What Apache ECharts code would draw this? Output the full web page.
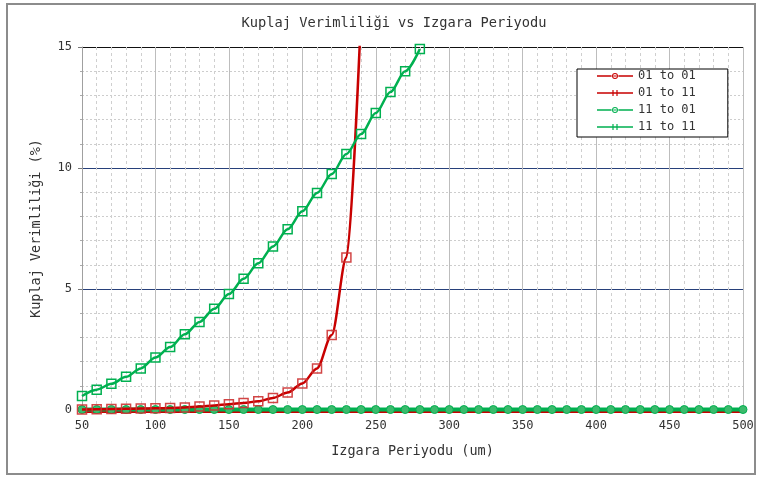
<!DOCTYPE html>
<html>
<head>
<meta charset="utf-8">
<script src="https://cdn.jsdelivr.net/npm/echarts@6/dist/echarts.min.js"></script>
<style>
  html, body { margin: 0; padding: 0; background: #fff; }
  #chart { width: 761px; height: 477px; }
</style>
</head>
<body>
<div id="chart"></div>
<script>
// Grating period (um) sampled every 10 um
const periodsRise01 = [50, 60, 70, 80, 90, 100, 110, 120, 130, 140, 150, 160, 170, 180, 190, 200, 210, 220, 230, 240];
const periodsRise11 = [50, 60, 70, 80, 90, 100, 110, 120, 130, 140, 150, 160, 170, 180, 190, 200, 210, 220, 230, 240, 250, 260, 270, 280];
const periodsAll = [50, 60, 70, 80, 90, 100, 110, 120, 130, 140, 150, 160, 170, 180, 190, 200,
  210, 220, 230, 240, 250, 260, 270, 280, 290, 300, 310, 320, 330, 340, 350, 360, 370, 380, 390, 400,
  410, 420, 430, 440, 450, 460, 470, 480, 490, 500];

// Coupling efficiency (%) per mode pair
const eff01to01 = [0.02, 0.03, 0.04, 0.05, 0.06, 0.07, 0.08, 0.10, 0.14, 0.19, 0.24, 0.29, 0.36, 0.50, 0.72, 1.10, 1.72, 3.10, 6.30, 16.4];
const eff01to11 = [-0.08, -0.08, -0.08, -0.08, -0.08, -0.08, -0.08, -0.08, -0.08, -0.08, -0.08, -0.08, -0.08, -0.08, -0.08, -0.08,
  -0.08, -0.08, -0.08, -0.08, -0.08, -0.08, -0.08, -0.08, -0.08, -0.08, -0.08, -0.08, -0.08, -0.08, -0.08, -0.08,
  -0.08, -0.08, -0.08, -0.08, -0.08, -0.08, -0.08, -0.08, -0.08, -0.08, -0.08, -0.08, -0.08, -0.08];
const eff11to01 = [0.02, 0.02, 0.02, 0.02, 0.02, 0.02, 0.02, 0.02, 0.02, 0.02, 0.02, 0.02, 0.02, 0.02, 0.02, 0.02,
  0.02, 0.02, 0.02, 0.02, 0.02, 0.02, 0.02, 0.02, 0.02, 0.02, 0.02, 0.02, 0.02, 0.02, 0.02, 0.02,
  0.02, 0.02, 0.02, 0.02, 0.02, 0.02, 0.02, 0.02, 0.02, 0.02, 0.02, 0.02, 0.02, 0.02];
const eff11to11 = [0.58, 0.84, 1.08, 1.37, 1.72, 2.17, 2.60, 3.13, 3.64, 4.18, 4.79, 5.42, 6.06, 6.76, 7.47, 8.21,
  8.97, 9.75, 10.58, 11.40, 12.27, 13.14, 14.00, 14.92];

const seriesNames = ['01 to 01', '01 to 11', '11 to 01', '11 to 11'];
const xTickLabels = ['50', '100', '150', '200', '250', '300', '350', '400', '450', '500'];
const yTickLabels = ['0', '5', '10', '15'];

const RED = '#c80000';
const GREEN = '#00b050';
const MONO = '"DejaVu Sans Mono", "Liberation Mono", monospace';

const pairs = (xs, ys) => xs.map((x, i) => [x, ys[i]]);

// Legend glyphs: a short line with a hollow circle, or a line with two crossbars
const ICON_CIRCLE = 'path://M0,5.2H14.6V6.8H0Z M21.4,5.2H36V6.8H21.4Z M16.4,5.4H19.6V6.6H16.4Z ' +
  'M21,6A3,3,0,1,0,15,6A3,3,0,1,0,21,6Z M20,6A2,2,0,1,1,16,6A2,2,0,1,1,20,6Z';
const ICON_PLUS = 'path://M0,5.2H36V6.8H0Z M15.4,3H16.6V9H15.4Z M19.4,3H20.6V9H19.4Z';

const chart = echarts.init(document.getElementById('chart'));
chart.setOption({
  animation: false,
  backgroundColor: '#fff',
  graphic: [{
    type: 'rect',
    shape: { x: 7, y: 4, width: 748, height: 470 },
    style: { fill: 'none', stroke: '#8c8c8c', lineWidth: 2 },
    silent: true
  }],
  title: {
    text: 'Kuplaj Verimliliği vs Izgara Periyodu',
    left: 389,
    top: 11,
    textAlign: 'center',
    textStyle: { fontFamily: MONO, fontSize: 13.7, fontWeight: 'normal', color: '#333' }
  },
  grid: { left: 82, right: 18, top: 47, bottom: 67 },
  legend: {
    orient: 'vertical',
    left: 577,
    top: 69,
    padding: [1, 32, 4, 20],
    itemWidth: 36,
    itemHeight: 12,
    itemGap: 5,
    borderColor: '#000',
    borderWidth: 1,
    backgroundColor: '#fff',
    itemStyle: { borderWidth: 0 },
    textStyle: { fontFamily: MONO, fontSize: 12, color: '#333' },
    data: [
      { name: seriesNames[0], icon: ICON_CIRCLE, itemStyle: { color: RED } },
      { name: seriesNames[1], icon: ICON_PLUS, itemStyle: { color: RED } },
      { name: seriesNames[2], icon: ICON_CIRCLE, itemStyle: { color: GREEN } },
      { name: seriesNames[3], icon: ICON_PLUS, itemStyle: { color: GREEN } }
    ]
  },
  xAxis: {
    type: 'value',
    min: 50,
    max: 500,
    interval: 50,
    name: 'Izgara Periyodu (um)',
    nameLocation: 'middle',
    nameGap: 34,
    nameTextStyle: { fontFamily: MONO, fontSize: 13.5, color: '#333' },
    axisLine: { show: true, onZero: false, lineStyle: { color: '#999' } },
    axisTick: { show: false },
    axisLabel: {
      margin: 10,
      fontFamily: MONO, fontSize: 12, color: '#333',
      formatter: (v) => xTickLabels[Math.round((v - 50) / 50)] ?? ''
    },
    splitLine: { show: true, lineStyle: { color: '#bdbdbd', width: 1 } },
    minorTick: { show: false, splitNumber: 5 },
    minorSplitLine: { show: true, lineStyle: { color: '#cfcfcf', type: [3, 3], width: 1 } }
  },
  yAxis: {
    type: 'value',
    min: 0,
    max: 15,
    interval: 5,
    name: 'Kuplaj Verimliliği (%)',
    nameLocation: 'middle',
    nameGap: 39,
    nameTextStyle: { fontFamily: MONO, fontSize: 13.5, color: '#333' },
    axisLine: { show: true, lineStyle: { color: '#a0a0a0' } },
    axisTick: { show: true, length: 4, lineStyle: { color: '#777' } },
    minorTick: { show: true, splitNumber: 5, length: 2, lineStyle: { color: '#aaa' } },
    axisLabel: {
      margin: 10,
      fontFamily: MONO, fontSize: 12, color: '#333',
      formatter: (v) => yTickLabels[Math.round(v / 5)] ?? ''
    },
    splitLine: { show: true, lineStyle: { color: ['#999', '#27407a', '#27407a', '#111'], width: 1 } },
    minorSplitLine: { show: true, lineStyle: { color: '#cdcdcd', type: [2, 2], width: 1 } }
  },
  series: [
    {
      name: seriesNames[1],
      type: 'line',
      data: pairs(periodsAll, eff01to11),
      clip: false,
      symbol: 'none',
      lineStyle: { color: RED, width: 2 },
      itemStyle: { color: RED },
      z: 2
    },
    {
      name: seriesNames[2],
      type: 'line',
      data: pairs(periodsAll, eff11to01),
      symbol: 'circle',
      symbolSize: 8,
      lineStyle: { color: GREEN, width: 4 },
      itemStyle: { color: '#3cba6c', borderColor: GREEN, borderWidth: 1 },
      z: 3
    },
    {
      name: seriesNames[0],
      type: 'line',
      data: pairs(periodsRise01, eff01to01),
      smooth: 0.3,
      smoothMonotone: 'x',
      symbol: 'rect',
      symbolSize: 9,
      lineStyle: { color: RED, width: 2.5 },
      itemStyle: { color: 'rgba(255,255,255,0)', borderColor: 'rgba(205,50,50,0.9)', borderWidth: 1.5 },
      z: 4
    },
    {
      name: seriesNames[3],
      type: 'line',
      data: pairs(periodsRise11, eff11to11),
      smooth: 0.3,
      smoothMonotone: 'x',
      symbol: 'rect',
      symbolSize: 9,
      lineStyle: { color: GREEN, width: 2.5 },
      itemStyle: { color: 'rgba(255,255,255,0)', borderColor: GREEN, borderWidth: 1.5 },
      z: 5
    }
  ]
});
</script>
</body>
</html>
